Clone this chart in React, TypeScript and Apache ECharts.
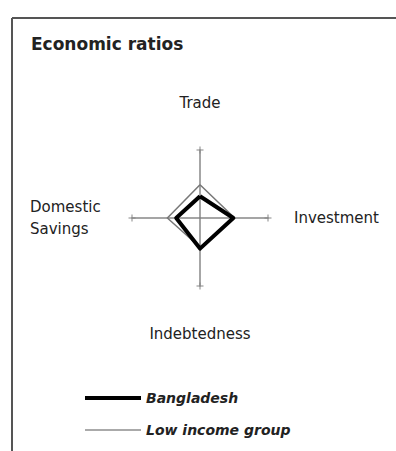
import React, { useEffect, useRef } from "react";
import * as echarts from "echarts";

const indicators = ["Trade", "Domestic Savings", "Indebtedness", "Investment"];
const axisMax = 1;
const bangladesh = [0.32, 0.35, 0.45, 0.49];
const lowIncome = [0.49, 0.48, 0.43, 0.51];
const axisEnds = [1, 1, 1, 1];
const seriesNames = ["Bangladesh", "Low income group"];
const titleText = "Economic ratios";

const FONT = "DejaVu Sans";

export default function App() {
  const ref = useRef<HTMLDivElement>(null);
  useEffect(() => {
    document.body.style.margin = "0";
    const chart = echarts.init(ref.current!, null, { renderer: "svg" });
    chart.setOption({
      animation: false,
      backgroundColor: "#fff",
      title: {
        text: titleText,
        left: 31,
        top: 35,
        padding: 0,
        textStyle: { fontFamily: FONT, fontWeight: "bold", fontSize: 17, color: "#222" },
      },
      graphic: [
        { type: "line", shape: { x1: 12, y1: 18, x2: 396, y2: 18 }, style: { stroke: "#555", lineWidth: 2 } },
        { type: "line", shape: { x1: 12, y1: 18, x2: 12, y2: 451 }, style: { stroke: "#555", lineWidth: 2 } },
      ],
      legend: [
        {
          data: [{ name: seriesNames[0], itemStyle: { color: "#000" } }],
          left: 85,
          top: 391,
          padding: 0,
          icon: "rect",
          itemWidth: 56,
          itemHeight: 4,
          textStyle: { fontFamily: FONT, fontStyle: "italic", fontWeight: "bold", fontSize: 14, color: "#222" },
        },
        {
          data: [{ name: seriesNames[1], itemStyle: { color: "#aaa" } }],
          left: 85,
          top: 423,
          padding: 0,
          icon: "rect",
          itemWidth: 56,
          itemHeight: 2,
          textStyle: { fontFamily: FONT, fontStyle: "italic", fontWeight: "bold", fontSize: 14, color: "#222" },
        },
      ],
      radar: {
        center: [200, 218],
        radius: 68,
        startAngle: 90,
        shape: "polygon",
        splitNumber: 1,
        indicator: indicators.map((n) => ({ name: n, max: axisMax, min: 0 })),
        nameGap: 26,
        axisName: {
          color: "#222",
          fontFamily: FONT,
          fontSize: 15,
          formatter: (name: string) => {
            if (name === "Trade") return "{t|Trade}";
            if (name === "Indebtedness") return "{b|Indebtedness}";
            if (name === "Domestic Savings") return "{d|Domestic}\n{d|Savings}";
            return name;
          },
          rich: {
            t: { fontFamily: FONT, fontSize: 15, color: "#222", padding: [0, 0, 14, 0] },
            b: { fontFamily: FONT, fontSize: 15, color: "#222", padding: [14, 0, 0, 0] },
            d: { fontFamily: FONT, fontSize: 15, color: "#222", width: 76, align: "left", lineHeight: 22 },
          },
        },
        axisLine: { lineStyle: { color: "#888", width: 1.5 } },
        splitLine: { show: false },
        splitArea: { show: false },
        axisTick: { show: false },
        axisLabel: { show: false },
      },
      series: [
        {
          type: "radar",
          silent: true,
          data: [
            {
              name: "axis-ends",
              value: axisEnds,
              symbol: "path://M0,3h7v1h-7z M3,0h1v7h-1z",
              symbolSize: 7,
              itemStyle: { color: "#888" },
              lineStyle: { opacity: 0, width: 0 },
            },
          ],
        },
        {
          type: "radar",
          name: seriesNames[1],
          symbol: "none",
          data: [
            {
              name: seriesNames[1],
              value: lowIncome,
              lineStyle: { color: "#777", width: 1.5 },
              itemStyle: { color: "#aaa" },
            },
          ],
        },
        {
          type: "radar",
          name: seriesNames[0],
          symbol: "none",
          data: [
            {
              name: seriesNames[0],
              value: bangladesh,
              lineStyle: { color: "#000", width: 4 },
              itemStyle: { color: "#000" },
            },
          ],
        },
      ],
    });
    return () => chart.dispose();
  }, []);
  return <div ref={ref} style={{ width: 396, height: 451 }} />;
}
